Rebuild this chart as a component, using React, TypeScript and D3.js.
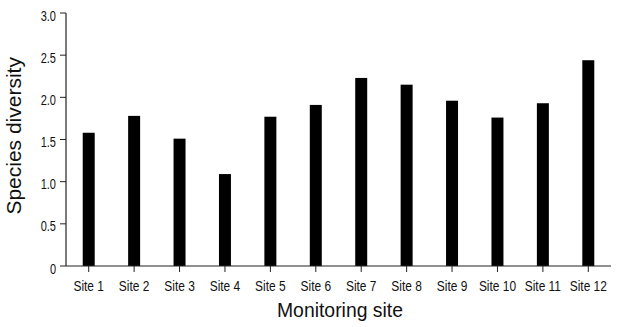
import React from 'react';
import {scaleBand, scaleLinear} from 'd3';

const sites = [
  'Site 1', 'Site 2', 'Site 3', 'Site 4', 'Site 5', 'Site 6',
  'Site 7', 'Site 8', 'Site 9', 'Site 10', 'Site 11', 'Site 12',
];
const diversity = [1.58, 1.78, 1.51, 1.09, 1.77, 1.91, 2.23, 2.15, 1.96, 1.76, 1.93, 2.44];
const yTicks = [0, 0.5, 1.0, 1.5, 2.0, 2.5, 3.0];

const W = 620;
const H = 327;
const margin = {left: 66, right: 9, top: 13, bottom: 61};
const font = '"Liberation Sans", Arial, sans-serif';
const axisColor = '#222';
const textColor = '#111';

const App = () => {
  const x = scaleBand<string>()
    .domain(sites)
    .range([margin.left, W - margin.right])
    .paddingInner(0.736)
    .paddingOuter(0.368);

  const y = scaleLinear()
    .domain([0, 3])
    .range([H - margin.bottom, margin.top]);

  const y0 = y(0);

  return (
    <svg width={W} height={H} style={{position: 'absolute', left: 0, top: 0, background: '#fff'}}>
      {sites.map((s, i) => (
        <rect
          key={s}
          x={x(s)}
          y={y(diversity[i])}
          width={x.bandwidth()}
          height={y0 - y(diversity[i])}
          fill="#000"
        />
      ))}
      <line x1={margin.left} x2={margin.left} y1={y(3)} y2={y0} stroke={axisColor} strokeWidth={1.2} />
      <line x1={margin.left} x2={W - margin.right} y1={y0} y2={y0} stroke={axisColor} strokeWidth={1.2} />
      {yTicks.map((t) => (
        <g key={t} transform={`translate(${margin.left}, ${y(t)})`}>
          <line x1={-6} x2={0} stroke={axisColor} strokeWidth={1} />
          <text
            transform="translate(-10, 7.5) scale(0.76, 1)"
            textAnchor="end"
            fontFamily={font}
            fontSize={14.5}
            fill={textColor}>
            {t === 0 ? '0' : t.toFixed(1)}
          </text>
        </g>
      ))}
      {sites.map((s) => {
        const cx = (x(s) || 0) + x.bandwidth() / 2;
        return (
          <g key={s} transform={`translate(${cx}, ${y0})`}>
            <line y1={0} y2={6} stroke={axisColor} strokeWidth={1} />
            <text
              transform="translate(0, 24.5) scale(0.77, 1)"
              textAnchor="middle"
              fontFamily={font}
              fontSize={15.5}
              fill={textColor}>
              {s}
            </text>
          </g>
        );
      })}
      <text
        transform={`translate(${(277 + 403) / 2}, 317.3) scale(0.97, 1)`}
        textAnchor="middle"
        fontFamily={font}
        fontSize={20}
        fill={textColor}>
        Monitoring site
      </text>
      <text
        transform={`translate(20.7, ${(56.7 + 215) / 2}) rotate(-90) scale(1.05, 1)`}
        textAnchor="middle"
        fontFamily={font}
        fontSize={20}
        fill={textColor}>
        Species diversity
      </text>
    </svg>
  );
};

export default App;
